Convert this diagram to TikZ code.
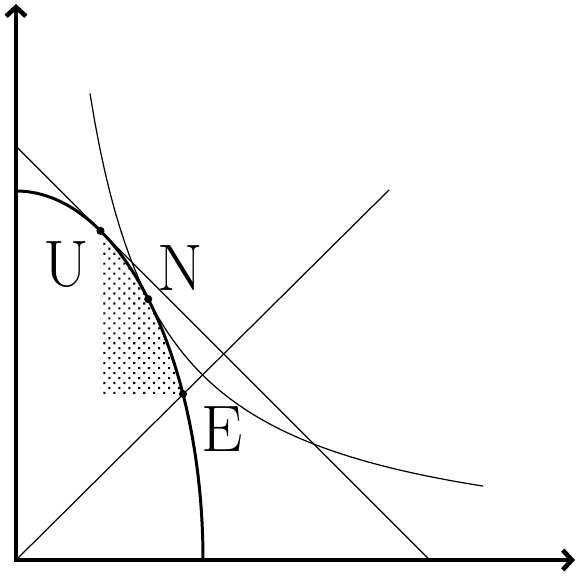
\documentclass[tikz,border=0pt]{standalone}
\usepackage{tikz}
\usetikzlibrary{arrows.meta, patterns.meta}

\begin{document}
\begin{tikzpicture}[
  x=0.01cm, y=0.01cm,
  axisline/.style={line width=1.3pt, {Straight Barb[length=2.6pt, width=5.6pt]}-{Straight Barb[length=2.6pt, width=5.6pt]}},
  frontier/.style={line width=0.85pt},
  guide/.style={line width=0.35pt},
  dotfill/.style={pattern={Dots[radius=0.42pt, distance=2pt, angle=45]}},
  pt/.style={circle, fill, inner sep=0pt, minimum size=2.3pt},
  lab/.style={inner sep=0pt, font=\fontsize{18.7}{20}\selectfont}
]
  \useasboundingbox (-16,-17) rectangle (561,560);

  % shaded set between U and E
  \fill[dotfill] plot[domain=63.1:26.75, samples=40] ({187*cos(\x)},{369*sin(\x)})
    -- (84.5,166.1) -- cycle;

  \draw[guide] (0,413.7) -- (413.7,0);
  \draw[guide] (0,0) -- (373,370);
  \draw[guide] plot[domain=74:467, samples=80] ({\x},{345.2/(\x/100)});

  \draw[frontier] plot[domain=90:0, samples=90] ({187*cos(\x)},{369*sin(\x)});

  \draw[axisline] (0,556) -- (0,0) -- (559,0);

  \node[pt] (u) at (84.5,329.1) {};
  \node[pt] (n) at (132.2,260.9) {};
  \node[pt] (e) at (167.0,166.1) {};

  \node[lab] (ul) at (50,295) {U};
  \node[lab] (nl) at (164,292) {N};
  \node[lab] (el) at (206,131) {E};
\end{tikzpicture}
\end{document}
